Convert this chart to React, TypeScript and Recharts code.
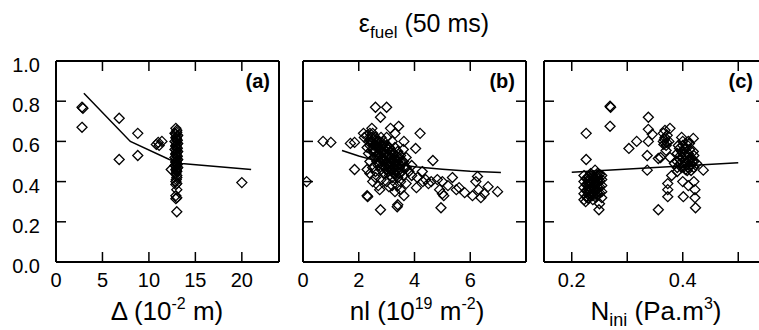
import React from 'react';
import { ScatterChart, Scatter, XAxis, YAxis } from 'recharts';

const FONT = '"Liberation Sans", Arial, Helvetica, sans-serif';

// y axis shared by the three panels
const Y_TICKS = [0, 0.2, 0.4, 0.6, 0.8, 1.0];

// panel (a): Δ (10^-2 m)
const A_X_TICKS = [0, 5, 10, 15, 20];
const A_X_LABELS = [0, 5, 10, 15, 20];
const A_POINTS: [number, number][] = [
  [2.8, 0.77], [2.9, 0.765], [2.8, 0.67], [6.8, 0.715], [6.8, 0.51],
  [8.8, 0.64], [8.8, 0.53], [10.8, 0.585], [11.0, 0.595], [11.4, 0.6], [11.1, 0.58],
  [20.0, 0.395], [12.4, 0.46],
  [12.9, 0.665], [13.0, 0.655], [12.8, 0.64], [13.1, 0.63], [12.9, 0.62], [13.0, 0.61],
  [12.8, 0.6], [13.1, 0.59], [12.9, 0.58], [13.0, 0.57], [12.8, 0.56], [13.1, 0.55],
  [12.9, 0.54], [13.0, 0.53], [12.8, 0.52], [13.1, 0.51], [12.9, 0.5], [13.0, 0.49],
  [12.8, 0.48], [13.1, 0.47], [12.9, 0.46], [13.0, 0.45], [12.9, 0.44], [13.0, 0.42],
  [12.9, 0.4], [13.0, 0.39], [12.9, 0.385], [13.0, 0.36], [12.9, 0.33], [13.0, 0.32],
  [12.9, 0.315], [13.0, 0.25],
  [13.0, 0.645], [12.9, 0.635], [13.0, 0.625], [12.95, 0.615], [13.05, 0.605], [12.95, 0.595],
  [13.0, 0.585], [12.9, 0.575], [13.05, 0.565], [12.95, 0.555], [13.0, 0.545], [12.9, 0.535],
  [13.05, 0.525], [12.95, 0.515], [13.0, 0.505], [12.9, 0.495], [13.05, 0.485], [12.95, 0.475],
  [13.0, 0.465], [12.95, 0.455], [13.0, 0.43], [12.95, 0.41],
];
const A_TREND: [number, number][] = [[3, 0.84], [8, 0.6], [12.2, 0.51], [13.5, 0.49], [21, 0.46]];

// panel (b): nl (10^19 m^-2)
const B_X_TICKS = [0, 2, 4, 6];
const B_X_LABELS = [0, 2, 4, 6];
const B_POINTS: [number, number][] = [
  [0.13, 0.4], [0.72, 0.6], [1.0, 0.595], [1.7, 0.59], [1.85, 0.595], [1.85, 0.46],
  [2.3, 0.33], [2.32, 0.325], [2.6, 0.77], [3.0, 0.77], [2.78, 0.72], [2.78, 0.26],
  [3.38, 0.275], [3.4, 0.285], [4.2, 0.64], [4.66, 0.505], [4.95, 0.27], [5.36, 0.42],
  [6.26, 0.425], [6.98, 0.35], [6.64, 0.375], [6.38, 0.32], [6.08, 0.33], [5.8, 0.345],
  [5.5, 0.36], [4.04, 0.565], [3.62, 0.6], [3.43, 0.675], [3.14, 0.665], [2.47, 0.665],
  [2.17, 0.64], [4.28, 0.45], [4.4, 0.41], [4.82, 0.41], [4.9, 0.36], [5.0, 0.34],
  [5.05, 0.33], [4.07, 0.37], [3.62, 0.33], [3.08, 0.375], [2.75, 0.36], [3.3, 0.64],
  [3.7, 0.52], [3.9, 0.48], [4.1, 0.42], [4.5, 0.39], [4.6, 0.4], [5.2, 0.38],
  [5.6, 0.37], [6.2, 0.4], [6.3, 0.36], [6.5, 0.34], [5.0, 0.4], [3.7, 0.39],
  [3.5, 0.4], [3.3, 0.35], [3.9, 0.43], [4.3, 0.4],
  [2.2, 0.62], [2.3, 0.63], [2.4, 0.61], [2.4, 0.58], [2.5, 0.64], [2.5, 0.6],
  [2.5, 0.56], [2.6, 0.62], [2.6, 0.58], [2.6, 0.55], [2.7, 0.6], [2.7, 0.57],
  [2.7, 0.53], [2.8, 0.62], [2.8, 0.58], [2.8, 0.55], [2.8, 0.51], [2.9, 0.6],
  [2.9, 0.56], [2.9, 0.53], [3.0, 0.62], [3.0, 0.58], [3.0, 0.55], [3.0, 0.5],
  [3.1, 0.57], [3.1, 0.53], [3.1, 0.48], [3.2, 0.6], [3.2, 0.55], [3.2, 0.51],
  [3.2, 0.46], [3.3, 0.57], [3.3, 0.52], [3.3, 0.48], [3.4, 0.55], [3.4, 0.5],
  [3.4, 0.45], [3.5, 0.53], [3.5, 0.48], [3.6, 0.56], [3.6, 0.5], [3.7, 0.47],
  [2.3, 0.57], [2.35, 0.54], [2.4, 0.5], [2.5, 0.47], [2.6, 0.45], [2.7, 0.48],
  [2.8, 0.46], [2.9, 0.44], [3.0, 0.46], [3.1, 0.43], [3.2, 0.42], [3.3, 0.44],
  [3.4, 0.42], [2.3, 0.46], [2.4, 0.44], [2.6, 0.42], [2.8, 0.41], [3.0, 0.4],
  [3.2, 0.38], [2.5, 0.4], [2.7, 0.38], [3.4, 0.38], [3.6, 0.43], [3.8, 0.45], [3.5, 0.36],
  [2.35, 0.6], [2.45, 0.62], [2.55, 0.58], [2.65, 0.6], [2.75, 0.56], [2.85, 0.58],
  [2.95, 0.54], [3.05, 0.56], [3.15, 0.52], [3.25, 0.54], [3.35, 0.5], [3.45, 0.52],
  [2.55, 0.52], [2.65, 0.5], [2.75, 0.5], [2.85, 0.48], [2.95, 0.47], [3.05, 0.45],
  [3.15, 0.46], [3.25, 0.44], [3.35, 0.46], [3.45, 0.47], [3.55, 0.45], [3.65, 0.47],
  [2.4, 0.64], [2.45, 0.595], [2.55, 0.615], [2.65, 0.575], [2.75, 0.595], [2.85, 0.545],
  [2.95, 0.575], [3.05, 0.525], [3.15, 0.545], [3.25, 0.495], [3.35, 0.525], [3.45, 0.485],
  [2.45, 0.555], [2.55, 0.545], [2.65, 0.525], [2.75, 0.535], [2.85, 0.515], [2.95, 0.505],
  [3.05, 0.485], [3.15, 0.495], [3.25, 0.47], [3.35, 0.43], [3.45, 0.44], [3.55, 0.5],
];
const B_TREND: [number, number][] = [
  [1.4, 0.555], [2, 0.527], [2.5, 0.508], [3, 0.494], [4, 0.474], [5, 0.462], [6, 0.452], [7.1, 0.445],
];

// panel (c): N_ini (Pa.m^3)
const C_X_TICKS = [0.2, 0.3, 0.4, 0.5];
const C_X_LABELS = [0.2, 0.4];
const C_POINTS: [number, number][] = [
  [0.226, 0.64], [0.226, 0.51], [0.249, 0.26], [0.269, 0.775], [0.27, 0.77], [0.269, 0.675],
  [0.303, 0.565], [0.317, 0.6], [0.338, 0.72], [0.338, 0.66], [0.338, 0.6], [0.336, 0.53],
  [0.336, 0.457], [0.356, 0.26], [0.356, 0.515], [0.36, 0.52], [0.377, 0.665], [0.373, 0.39],
  [0.373, 0.36], [0.373, 0.325], [0.377, 0.52], [0.401, 0.325], [0.419, 0.615], [0.419, 0.55],
  [0.422, 0.36], [0.422, 0.32], [0.423, 0.27], [0.437, 0.457], [0.38, 0.43], [0.39, 0.47],
  [0.42, 0.4], [0.425, 0.49], [0.41, 0.38], [0.4, 0.4], [0.345, 0.635], [0.37, 0.555], [0.385, 0.49],
  [0.242, 0.457], [0.25, 0.29], [0.225, 0.3],
  [0.222, 0.31], [0.23, 0.32], [0.238, 0.31], [0.246, 0.33], [0.254, 0.32],
  [0.222, 0.34], [0.23, 0.35], [0.238, 0.34], [0.246, 0.36], [0.254, 0.35],
  [0.222, 0.37], [0.23, 0.38], [0.238, 0.37], [0.246, 0.39], [0.254, 0.38],
  [0.222, 0.4], [0.23, 0.41], [0.238, 0.4], [0.246, 0.42], [0.254, 0.41],
  [0.222, 0.43], [0.23, 0.425], [0.238, 0.43], [0.246, 0.44], [0.254, 0.43],
  [0.226, 0.325], [0.234, 0.335], [0.242, 0.325], [0.25, 0.345], [0.226, 0.355],
  [0.234, 0.365], [0.242, 0.355], [0.25, 0.375], [0.226, 0.385], [0.234, 0.395],
  [0.242, 0.385], [0.25, 0.405], [0.226, 0.415], [0.234, 0.44], [0.242, 0.415], [0.25, 0.435],
  [0.23, 0.315], [0.238, 0.33], [0.246, 0.345], [0.23, 0.36], [0.238, 0.38], [0.246, 0.375],
  [0.23, 0.39], [0.238, 0.41], [0.246, 0.405], [0.23, 0.42], [0.238, 0.42], [0.246, 0.43],
  [0.365, 0.64], [0.368, 0.62], [0.365, 0.6], [0.37, 0.58], [0.372, 0.63], [0.368, 0.655], [0.375, 0.6],
  [0.367, 0.61], [0.371, 0.595], [0.366, 0.585],
  [0.39, 0.45], [0.398, 0.47], [0.405, 0.46], [0.412, 0.48], [0.42, 0.47],
  [0.39, 0.5], [0.398, 0.52], [0.405, 0.49], [0.412, 0.51], [0.42, 0.5],
  [0.39, 0.54], [0.398, 0.55], [0.405, 0.53], [0.412, 0.56], [0.42, 0.53],
  [0.392, 0.58], [0.4, 0.6], [0.405, 0.57], [0.412, 0.59], [0.398, 0.62],
  [0.394, 0.565], [0.402, 0.535], [0.409, 0.505], [0.416, 0.485], [0.396, 0.49],
  [0.408, 0.455], [0.415, 0.455], [0.4, 0.58], [0.41, 0.6],
  [0.395, 0.51], [0.403, 0.505], [0.41, 0.54], [0.4, 0.545], [0.407, 0.585], [0.415, 0.52],
  [0.403, 0.475], [0.41, 0.47], [0.417, 0.5], [0.396, 0.53], [0.404, 0.56],
];
const C_TREND: [number, number][] = [[0.2, 0.446], [0.5, 0.494]];

const toXY = (arr: [number, number][]) => arr.map(([x, y]) => ({ x, y }));

const TICK = 10;

const Diamond = (p: any) => {
  const { cx, cy } = p;
  if (cx == null || cy == null) return <g />;
  const r = 5;
  return (
    <path
      d={`M${cx},${cy - r}L${cx + r},${cy}L${cx},${cy + r}L${cx - r},${cy}Z`}
      fill="none"
      stroke="#000"
      strokeWidth={1.3}
    />
  );
};

const NoShape = () => <g />;

const makeTick = (side: string, labels: number[], fmt: (v: number) => string) => (p: any) => {
  const v = p.payload.value;
  const { x, y } = p;
  const show = labels.some((l) => Math.abs(l - v) < 1e-9);
  let line;
  let text = null;
  if (side === 'bottom') {
    line = <line x1={x} x2={x} y1={y} y2={y - TICK} stroke="#000" strokeWidth={1.5} />;
    if (show) text = <text x={x} y={y + 25} textAnchor="middle" fontSize={20} fontFamily={FONT} fill="#000">{fmt(v)}</text>;
  } else if (side === 'top') {
    line = <line x1={x} x2={x} y1={y} y2={y + TICK} stroke="#000" strokeWidth={1.5} />;
  } else if (side === 'left') {
    line = <line x1={x} x2={x + TICK} y1={y} y2={y} stroke="#000" strokeWidth={1.5} />;
    if (show) text = <text x={x - 16} y={y + 11} textAnchor="end" fontSize={20} fontFamily={FONT} fill="#000">{fmt(v)}</text>;
  } else {
    line = <line x1={x} x2={x - TICK} y1={y} y2={y} stroke="#000" strokeWidth={1.5} />;
  }
  return (
    <g>
      {line}
      {text}
    </g>
  );
};

const axisLine = { stroke: '#000', strokeWidth: 2 };

type PanelProps = {
  left: number;
  width: number;
  ml: number;
  mr: number;
  domain: [number, number];
  xTicks: number[];
  xLabels: number[];
  xFmt: (v: number) => string;
  yLabels: boolean;
  rightTicks: boolean;
  points: [number, number][];
  trend: [number, number][];
};

function Panel(props: PanelProps) {
  const { left, width, ml, mr, domain, xTicks, xLabels, xFmt, yLabels, rightTicks, points, trend } = props;
  // axes are 1px wide/high so that recharts still draws them; margins compensate
  return (
    <div style={{ position: 'absolute', left, top: 0 }}>
      <ScatterChart width={width} height={330} margin={{ top: 60, right: mr - 1, bottom: 0, left: ml - 1 }}>
        <XAxis
          xAxisId={0}
          type="number"
          dataKey="x"
          domain={domain}
          ticks={xTicks}
          interval={0}
          allowDataOverflow
          height={68}
          axisLine={axisLine}
          tickLine={false}
          tickSize={0}
          tickMargin={0}
          tick={makeTick('bottom', xLabels, xFmt)}
        />
        <XAxis
          xAxisId="top"
          orientation="top"
          type="number"
          dataKey="x"
          domain={domain}
          ticks={xTicks}
          interval={0}
          allowDataOverflow
          height={1}
          axisLine={axisLine}
          tickLine={false}
          tickSize={0}
          tickMargin={0}
          tick={makeTick('top', [], xFmt)}
        />
        <YAxis
          yAxisId={0}
          type="number"
          dataKey="y"
          domain={[0, 1]}
          ticks={Y_TICKS}
          interval={0}
          allowDataOverflow
          width={1}
          axisLine={axisLine}
          tickLine={false}
          tickSize={0}
          tickMargin={0}
          tick={makeTick('left', yLabels ? Y_TICKS : [], (v) => v.toFixed(1))}
        />
        <YAxis
          yAxisId="right"
          orientation="right"
          type="number"
          dataKey="y"
          domain={[0, 1]}
          ticks={Y_TICKS}
          interval={0}
          allowDataOverflow
          width={1}
          axisLine={axisLine}
          tickLine={false}
          tickSize={0}
          tickMargin={0}
          tick={rightTicks ? makeTick('right', [], (v) => String(v)) : false}
        />
        <Scatter data={toXY(points)} shape={Diamond} isAnimationActive={false} />
        <Scatter
          data={toXY(trend)}
          shape={NoShape}
          line={{ stroke: '#000', strokeWidth: 1.5 }}
          lineType="joint"
          isAnimationActive={false}
        />
      </ScatterChart>
    </div>
  );
}

export default function App() {
  return (
    <div
      style={{
        position: 'absolute',
        left: 0,
        top: 0,
        width: 759,
        height: 330,
        overflow: 'hidden',
        background: '#fff',
        fontFamily: FONT,
      }}
    >
      <Panel
        left={0}
        width={290}
        ml={56}
        mr={11}
        domain={[0, 24]}
        xTicks={A_X_TICKS}
        xLabels={A_X_LABELS}
        xFmt={(v) => String(v)}
        yLabels
        rightTicks={false}
        points={A_POINTS}
        trend={A_TREND}
      />
      <Panel
        left={290}
        width={250}
        ml={13}
        mr={14}
        domain={[0, 8]}
        xTicks={B_X_TICKS}
        xLabels={B_X_LABELS}
        xFmt={(v) => String(v)}
        yLabels={false}
        rightTicks
        points={B_POINTS}
        trend={B_TREND}
      />
      <Panel
        left={530}
        width={250}
        ml={14}
        mr={14}
        domain={[0.15, 0.55]}
        xTicks={C_X_TICKS}
        xLabels={C_X_LABELS}
        xFmt={(v) => v.toFixed(1)}
        yLabels={false}
        rightTicks
        points={C_POINTS}
        trend={C_TREND}
      />
      <svg
        width={759}
        height={330}
        style={{ position: 'absolute', left: 0, top: 0, pointerEvents: 'none' }}
        fontFamily={FONT}
      >
        <text x={424} y={32} textAnchor="middle" fontSize={25} fill="#000">
          ε<tspan fontSize={17} dy={6}>fuel</tspan>
          <tspan dy={-6}> (50 ms)</tspan>
        </text>
        <text x={270} y={88} textAnchor="end" fontSize={20} fontWeight="bold" fill="#000">(a)</text>
        <text x={515} y={88} textAnchor="end" fontSize={20} fontWeight="bold" fill="#000">(b)</text>
        <text x={753} y={88} textAnchor="end" fontSize={20} fontWeight="bold" fill="#000">(c)</text>
        <text x={167} y={320} textAnchor="middle" fontSize={26} fill="#000">
          Δ (10<tspan fontSize={16} dy={-11}>-2</tspan>
          <tspan dy={11}> m)</tspan>
        </text>
        <text x={417} y={320} textAnchor="middle" fontSize={26} fill="#000">
          nl (10<tspan fontSize={16} dy={-11}>19</tspan>
          <tspan dy={11}> m</tspan>
          <tspan fontSize={16} dy={-11}>-2</tspan>
          <tspan dy={11}>)</tspan>
        </text>
        <text x={656} y={320} textAnchor="middle" fontSize={26} fill="#000">
          N<tspan fontSize={18} dy={6}>ini</tspan>
          <tspan dy={-6}> (Pa.m</tspan>
          <tspan fontSize={16} dy={-11}>3</tspan>
          <tspan dy={11}>)</tspan>
        </text>
      </svg>
    </div>
  );
}
